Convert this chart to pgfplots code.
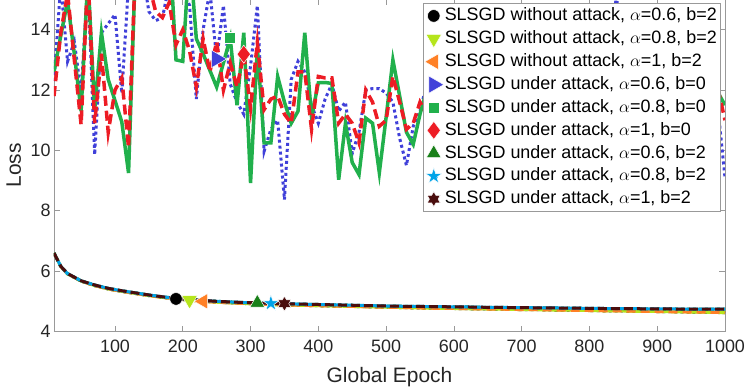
\documentclass[border=0pt]{standalone}
\usepackage{fontspec}
\setmainfont{Liberation Sans}
\usepackage{pgfplots}
\usepackage{pgfplotstable}
\pgfplotsset{compat=1.18}
\usetikzlibrary{plotmarks}

\definecolor{cblue}{rgb}{0.25,0.25,0.85}
\definecolor{cgreen}{rgb}{0.13,0.69,0.30}
\definecolor{cred}{rgb}{0.93,0.11,0.14}
\definecolor{cyg}{rgb}{0.71,0.90,0.11}
\definecolor{corange}{rgb}{1.00,0.50,0.15}
\definecolor{cdkgreen}{rgb}{0.10,0.50,0.10}
\definecolor{ccyan}{rgb}{0.00,0.64,0.91}
\definecolor{cbrown}{rgb}{0.29,0.05,0.05}
\definecolor{axgray}{rgb}{0.60,0.60,0.60}
\definecolor{txtgray}{rgb}{0.15,0.15,0.15}

\pgfdeclareplotmark{pentagram*}{%
  \pgfpathmoveto{\pgfpointpolar{90}{\pgfplotmarksize}}%
  \pgfpathlineto{\pgfpointpolar{126}{0.382*\pgfplotmarksize}}%
  \pgfpathlineto{\pgfpointpolar{162}{\pgfplotmarksize}}%
  \pgfpathlineto{\pgfpointpolar{198}{0.382*\pgfplotmarksize}}%
  \pgfpathlineto{\pgfpointpolar{234}{\pgfplotmarksize}}%
  \pgfpathlineto{\pgfpointpolar{270}{0.382*\pgfplotmarksize}}%
  \pgfpathlineto{\pgfpointpolar{306}{\pgfplotmarksize}}%
  \pgfpathlineto{\pgfpointpolar{342}{0.382*\pgfplotmarksize}}%
  \pgfpathlineto{\pgfpointpolar{18}{\pgfplotmarksize}}%
  \pgfpathlineto{\pgfpointpolar{54}{0.382*\pgfplotmarksize}}%
  \pgfpathclose\pgfusepathqfillstroke}
\pgfdeclareplotmark{hexagram*}{%
  \pgfpathmoveto{\pgfpointpolar{90}{\pgfplotmarksize}}%
  \pgfpathlineto{\pgfpointpolar{120}{0.577*\pgfplotmarksize}}%
  \pgfpathlineto{\pgfpointpolar{150}{\pgfplotmarksize}}%
  \pgfpathlineto{\pgfpointpolar{180}{0.577*\pgfplotmarksize}}%
  \pgfpathlineto{\pgfpointpolar{210}{\pgfplotmarksize}}%
  \pgfpathlineto{\pgfpointpolar{240}{0.577*\pgfplotmarksize}}%
  \pgfpathlineto{\pgfpointpolar{270}{\pgfplotmarksize}}%
  \pgfpathlineto{\pgfpointpolar{300}{0.577*\pgfplotmarksize}}%
  \pgfpathlineto{\pgfpointpolar{330}{\pgfplotmarksize}}%
  \pgfpathlineto{\pgfpointpolar{0}{0.577*\pgfplotmarksize}}%
  \pgfpathlineto{\pgfpointpolar{30}{\pgfplotmarksize}}%
  \pgfpathlineto{\pgfpointpolar{60}{0.577*\pgfplotmarksize}}%
  \pgfpathclose\pgfusepathqfillstroke}

\pgfplotstableread{
e blue green red
10 12.3 12.6 11.8
20 15.5 13.8 13.9
30 12.95 14.95 15.2
40 13.6 13.2 13.0
50 11.9 11.3 10.85
60 15.6 15.8 15.8
70 9.86 11.35 10.9
80 13.9 13.9 13.2
90 14.2 12.35 10.6
100 14.5 11.65 12.0
110 11.9 10.95 12.4
120 15.5 9.25 10.1
130 16.0 16.0 16.0
140 16.0 16.5 16.5
150 14.6 16.5 15.5
160 14.3 16.2 14.6
170 14.4 16.0 14.4
180 15.5 17.0 14.9
190 15.2 13.0 13.5
200 15.4 12.95 14.0
210 14.8 16.55 13.3
220 11.7 13.7 12.1
230 14.0 13.2 13.7
240 15.3 12.65 12.6
250 13.03 12.1 13.6
260 14.8 12.9 12.0
270 12.2 13.72 12.9
280 11.6 11.5 12.1
290 11.2 13.9 13.19
300 12.8 8.92 11.4
310 14.8 13.4 13.57
320 9.97 10.25 11.35
330 10.7 10.25 11.7
340 11.0 12.45 11.8
350 8.37 11.6 11.2
360 12.35 10.9 10.9
370 12.95 11.3 12.6
380 12.6 13.9 12.6
390 11.5 11.1 10.7
400 10.9 12.24 12.45
410 11.7 12.25 12.4
420 12.2 12.22 12.4
430 11.3 9.03 10.9
440 11.6 10.9 11.2
450 9.9 9.6 10.9
460 10.6 9.2 10.25
470 12.0 11.07 12.0
480 12.05 10.9 11.6
490 12.05 9.26 10.8
500 11.9 11.1 11.0
510 11.6 13.0 12.45
520 10.4 11.8 11.6
530 9.5 10.6 10.7
540 10.8 10.2 10.9
550 11.3 11.2 11.6
560 12.2 12.0 11.2
570 10.1 10.5 12.3
580 11.4 11.8 10.8
590 12.6 9.8 11.7
600 10.3 12.3 12.5
610 9.6 11.0 10.6
620 11.9 10.2 11.4
630 12.8 12.5 12.2
640 10.9 11.4 10.9
650 11.5 10.0 11.8
660 13.1 11.9 12.6
670 10.4 12.8 11.1
680 9.8 10.6 10.5
690 12.0 11.3 11.9
700 11.2 9.9 12.3
710 12.7 12.1 10.8
720 10.0 11.0 11.5
730 11.6 10.4 12.4
740 13.2 12.6 11.3
750 10.8 11.2 10.7
760 11.9 9.7 12.0
770 12.4 11.8 12.7
780 9.7 12.4 11.0
790 11.1 10.3 10.6
800 12.9 11.5 11.9
810 11.5 10.8 12.5
820 10.2 12.2 11.2
830 12.3 9.9 10.9
840 15.3 11.6 12.2
850 11.0 12.9 11.6
860 10.6 10.5 10.8
870 12.5 11.1 12.6
880 11.8 10.0 11.4
890 9.9 12.3 10.7
900 11.4 11.4 11.9
910 12.6 10.7 12.3
920 10.5 12.0 11.0
930 11.2 9.6 10.6
940 12.8 11.7 12.1
950 10.9 12.5 11.7
960 9.8 10.9 10.9
970 11.7 11.3 12.4
980 12.4 10.4 11.3
990 11.3 11.9 12.0
1000 9.1 11.5 11.0
}\updata

\pgfplotstableread{
e wo att
10 6.60 6.60
20 6.15 6.16
30 5.91 5.92
50 5.67 5.68
70 5.52 5.54
90 5.41 5.43
110 5.33 5.35
130 5.26 5.28
150 5.19 5.21
170 5.13 5.15
190 5.08 5.10
210 5.04 5.06
230 5.00 5.03
250 4.97 5.00
270 4.95 4.98
290 4.93 4.96
310 4.91 4.95
330 4.89 4.93
350 4.88 4.92
370 4.87 4.91
390 4.86 4.90
410 4.85 4.89
430 4.84 4.88
450 4.83 4.87
470 4.82 4.86
490 4.81 4.85
510 4.80 4.84
530 4.79 4.835
550 4.78 4.83
570 4.77 4.825
590 4.765 4.82
610 4.76 4.815
630 4.75 4.81
650 4.745 4.80
670 4.74 4.80
690 4.73 4.79
710 4.725 4.79
730 4.72 4.78
750 4.71 4.78
770 4.705 4.775
790 4.70 4.77
810 4.69 4.765
830 4.685 4.76
850 4.68 4.76
870 4.67 4.755
890 4.665 4.75
910 4.66 4.75
930 4.65 4.745
950 4.645 4.745
970 4.64 4.74
990 4.63 4.74
1000 4.625 4.74
}\lowdata

\begin{document}
\begin{tikzpicture}
\begin{axis}[name=ax, scale only axis, width=671bp, height=332bp,
  xmin=10, xmax=1000, ymin=4, ymax=15,
  xtick={100,200,...,1000}, ytick={4,6,...,14},
  tick align=inside, major tick length=6bp,
  axis line style={draw=axgray, line width=0.6bp},
  every tick/.style={draw=axgray, line width=0.6bp},
  tick label style={font=\fontsize{18}{18}\selectfont, text=txtgray},
  xticklabel style={yshift=-5bp},
  /pgf/number format/assume math mode=true,
  /pgf/number format/1000 sep={},
  xlabel={Global Epoch}, ylabel={Loss},
  label style={font=\fontsize{21}{21}\selectfont, text=txtgray},
  xlabel style={at={(axis description cs:0.5,-0.1545)}, anchor=base},
  ylabel style={at={(axis description cs:-0.0492,0.5)}, anchor=base},
  legend style={at={(axis description cs:0.9925,0.988)}, anchor=north east,
    draw=axgray, fill=white, font=\fontsize{18}{18}\selectfont, inner sep=2bp,
    row sep=2.4bp, nodes={inner sep=1bp, text height=14bp, text depth=4.5bp}},
  legend cell align=left,
  legend image code/.code={\draw[#1, mark repeat=2, mark phase=2] plot coordinates {(0bp,0bp) (4bp,0bp) (8bp,0bp)};},
]
% without attack
\addplot[black, line width=3bp, dash pattern=on 3bp off 3bp, mark=*, mark size=6.3bp, mark repeat=500, mark phase=11, mark options={solid, fill=black, draw=white, line width=0.5bp}] table[x=e,y=wo]{\lowdata};
\addlegendentry{SLSGD without attack, $\alpha$=0.6, b=2}
\addplot[cyg, line width=3bp, mark=triangle*, mark size=9bp, mark repeat=500, mark phase=12, mark options={solid, rotate=180, fill=cyg, draw=white, line width=0.5bp}] table[x=e,y=wo]{\lowdata};
\addlegendentry{SLSGD without attack, $\alpha$=0.8, b=2}
\addplot[corange, line width=3bp, dash pattern=on 9bp off 5bp, mark=triangle*, mark size=9bp, mark repeat=500, mark phase=13, mark options={solid, rotate=90, fill=corange, draw=white, line width=0.5bp}] table[x=e,y=wo]{\lowdata};
\addlegendentry{SLSGD without attack, $\alpha$=1, b=2}
% under attack b=0 (mark phase counts only points inside the y range)
\addplot[cblue, line width=3bp, dash pattern=on 3bp off 3bp, mark=triangle*, mark size=10bp, mark repeat=500, mark phase=16, mark options={solid, rotate=-90, fill=cblue, draw=white, line width=0.5bp}] table[x=e,y=blue]{\updata};
\addlegendentry{SLSGD under attack, $\alpha$=0.6, b=0}
\addplot[cgreen, line width=3.5bp, mark=square*, mark size=5.5bp, mark repeat=500, mark phase=19, mark options={solid, fill=cgreen, draw=white, line width=0.5bp}] table[x=e,y=green]{\updata};
\addlegendentry{SLSGD under attack, $\alpha$=0.8, b=0}
\addplot[cred, line width=3.5bp, dash pattern=on 10bp off 5bp, mark=diamond*, mark size=9bp, mark repeat=500, mark phase=24, mark options={solid, fill=cred, draw=white, line width=0.5bp}] table[x=e,y=red]{\updata};
\addlegendentry{SLSGD under attack, $\alpha$=1, b=0}
% under attack b=2
\addplot[cdkgreen, line width=3bp, dash pattern=on 3bp off 3bp, mark=triangle*, mark size=8.5bp, mark repeat=500, mark phase=17, mark options={solid, fill=cdkgreen, draw=white, line width=0.5bp}] table[x=e,y=att]{\lowdata};
\addlegendentry{SLSGD under attack, $\alpha$=0.6, b=2}
\addplot[ccyan, line width=3bp, mark=pentagram*, mark size=8.5bp, mark repeat=500, mark phase=18, mark options={solid, fill=ccyan, draw=white, line width=0.5bp}] table[x=e,y=att]{\lowdata};
\addlegendentry{SLSGD under attack, $\alpha$=0.8, b=2}
\addplot[cbrown, line width=3bp, dash pattern=on 9bp off 4bp, mark=hexagram*, mark size=7.5bp, mark repeat=500, mark phase=19, mark options={solid, fill=cbrown, draw=white, line width=0.5bp}] table[x=e,y=att]{\lowdata};
\addlegendentry{SLSGD under attack, $\alpha$=1, b=2}
\end{axis}
\pgfresetboundingbox
\path[use as bounding box] ([shift={(-54bp,-55.3bp)}]ax.south west) rectangle ([shift={(22bp,-0.5bp)}]ax.north east);
\end{tikzpicture}
\end{document}
